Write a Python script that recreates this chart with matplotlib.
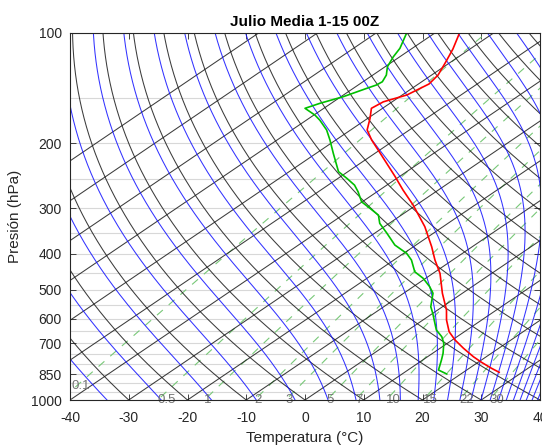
import numpy as np
import matplotlib
matplotlib.use('Agg')
import matplotlib.pyplot as plt

plt.rcParams['font.family'] = ['Liberation Sans', 'DejaVu Sans']

########################  DATA  ########################
# temperature sounding (hPa, degC)
p_temp = [100, 110.6, 119.8, 130.2, 137.7, 147.5, 154.0, 160.4, 170.9, 183.7,
          195.7, 212.7, 246.3, 267.9, 294.4, 337.1, 382.3, 415.6, 451.8, 511.9,
          568.6, 605.2, 651.6, 686.5, 722.9, 762.2, 789.5, 819.7, 840.5]
t_temp = [-65.8, -62.9, -60.9, -58.9, -58.2, -59.2, -61.5, -61.9, -59.6, -57.2,
          -53.9, -49.1, -40.7, -36.0, -30.5, -23.1, -16.9, -13.0, -8.8, -3.4,
          1.5, 4.0, 7.4, 10.5, 14.0, 17.8, 20.6, 23.8, 26.1]
# dew point sounding (hPa, degC)
p_dew = [100, 110.1, 116.1, 123.6, 130.2, 135.8, 138.6, 141.5, 149.1, 155.4,
         160.4, 167.4, 172.8, 183.7, 195.7, 212.7, 238.7, 248.9, 259.7, 270.9,
         288.4, 300.6, 313.5, 330.2, 351.3, 378.2, 398.5, 415.6, 447.3, 466.2,
         491.3, 511.9, 557.0, 580.6, 605.2, 644.7, 672.3, 700.7, 746.4, 778.3,
         828.6, 849.4]
t_dew = [-74.8, -72.1, -71.1, -69.6, -67.7, -66.7, -66.9, -67.7, -69.6, -71.9,
         -73.2, -69.8, -67.7, -64.1, -61.0, -57.1, -51.6, -48.5, -45.5, -43.2,
         -40.1, -37.0, -33.9, -31.6, -27.9, -23.6, -19.5, -17.0, -13.5, -10.4,
         -7.2, -5.0, -2.0, 0.0, 1.9, 4.8, 7.4, 9.4, 11.8, 13.2,
         15.2, 17.6]

# background lines of the diagram
isotherms = list(range(-100, 41, 10))          # degC
dry_t0 = list(range(-40, 171, 10))             # degC at 1000 hPa
moist_thetae = list(range(240, 461, 10))       # K
mix_ratios = [0.1, 0.5, 1, 2, 3, 5, 7, 10, 15, 22, 30]   # g/kg
mix_labels = ['0.1', '0.5', '1', '2', '3', '5', '7', '10', '15', '22', '30']
grid_p = list(range(100, 1001, 50))
p_ticks = [100, 200, 300, 400, 500, 600, 700, 850, 1000]
t_ticks = list(range(-40, 41, 10))

SKEW = 40.0
XMIN, XMAX = -40, 40

########################  FUNCTIONS  ########################
def skx(T, p):
    return np.asarray(T) + SKEW * np.log(1000.0 / np.asarray(p))

def es(Tc):
    return 6.112 * np.exp(17.67 * Tc / (Tc + 243.5))

def theta_e(TK, p):
    e = es(TK - 273.15)
    rs = 0.622 * e / np.maximum(p - e, 1e-3)
    return TK * (1000.0 / p) ** 0.2857 * np.exp(2.5e6 * rs / (1004.0 * TK))

def moist_line(te, pp):
    lo = np.full_like(pp, 120.0)
    hi = np.full_like(pp, 330.0)
    with np.errstate(over='ignore', invalid='ignore'):
        for i in range(60):
            mid = 0.5 * (lo + hi)
            f = theta_e(mid, pp) - te
            lo = np.where(f < 0, mid, lo)
            hi = np.where(f >= 0, mid, hi)
    return 0.5 * (lo + hi) - 273.15

def dew_from_w(w, pp):
    e = w * pp / (622.0 + w)
    a = np.log(e / 6.112)
    return 243.5 * a / (17.67 - a)

########################  PLOT  ########################
fig = plt.figure(figsize=(5.42, 4.48), dpi=100)
ax = fig.add_axes([70 / 542, 48 / 448, 470 / 542, 367 / 448])
ax.set_yscale('log')

pp = np.logspace(np.log10(1050), 2, 300)

for p in grid_p:
    ax.axhline(p, color='#d8d8d8', lw=0.8, zorder=1)

# mixing ratio lines
for w, lab in zip(mix_ratios, mix_labels):
    td = dew_from_w(w, pp)
    xx = skx(td, pp)
    ax.plot(xx, pp, color='#78c878', lw=0.8, dashes=(7, 7), zorder=2)
    x0 = skx(dew_from_w(w, 1000.0), 1000.0)
    if x0 >= XMIN:
        ax.text(x0, 1000, lab, ha='left', va='center', fontsize=9.5,
                color='#737373', zorder=6)
    else:
        pl = np.interp(XMIN, xx, pp)
        ax.text(XMIN + 0.3, pl, lab, ha='left', va='bottom', fontsize=9.5,
                color='#737373', zorder=6)

# isotherms
for t in isotherms:
    ax.plot(skx(np.full_like(pp, t), pp), pp, color='#1a1a1a', lw=0.75,
            alpha=0.85, zorder=3)

# dry adiabats
for t0 in dry_t0:
    tk = (t0 + 273.15) * (pp / 1000.0) ** 0.2857 - 273.15
    ax.plot(skx(tk, pp), pp, color='#1a1a1a', lw=0.75, alpha=0.85, zorder=3)

# moist adiabats
for te in moist_thetae:
    tm = moist_line(te, pp)
    ax.plot(skx(tm, pp), pp, color='#1010ff', lw=0.75, alpha=0.85, zorder=4)

# soundings
ax.plot(skx(t_dew, p_dew), p_dew, color='#00c000', lw=1.2, zorder=7)
ax.plot(skx(t_temp, p_temp), p_temp, color='#ff0000', lw=1.2, zorder=7)

ax.set_xlim(XMIN, XMAX)
ax.set_ylim(1000, 100)
ax.set_yticks(p_ticks)
ax.set_yticklabels([str(p) for p in p_ticks])
ax.yaxis.set_minor_locator(matplotlib.ticker.NullLocator())
ax.set_xticks(t_ticks)
ax.set_xticklabels([str(t) for t in t_ticks])
ax.tick_params(direction='in', top=True, right=True, length=4, width=0.6,
               labelsize=10, colors='#262626')
ax.tick_params(axis='x', pad=8)
ax.tick_params(axis='y', pad=6)
for s in ax.spines.values():
    s.set_color('#262626')
    s.set_linewidth(0.8)
    s.set_zorder(8)

ax.set_title('Julio Media 1-15 00Z', fontsize=11, fontweight='bold', pad=5)
ax.set_xlabel('Temperatura (°C)', fontsize=11, color='#262626', labelpad=4)
ax.set_ylabel('Presión (hPa)', fontsize=11, color='#262626', labelpad=6)

fig.savefig('out.png', dpi=100)
